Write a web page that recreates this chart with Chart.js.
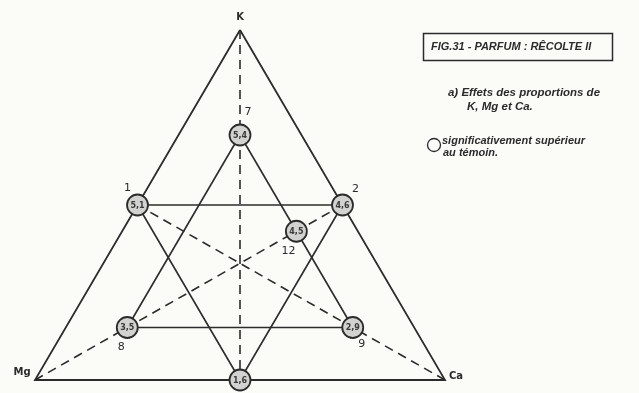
<!doctype html>
<html>
<head>
<meta charset="utf-8">
<title>Fig. 31 - Parfum : récolte II</title>
<script src="https://cdn.jsdelivr.net/npm/chart.js@4/dist/chart.umd.min.js"></script>
<style>
	html, body { margin: 0; padding: 0; background: #fbfbf8; }
	.chart-container { width: 639px; height: 393px; position: relative; }
</style>
</head>
<body>
<div class="chart-container"><canvas id="chart"></canvas></div>
<script>
// ternary coordinates (K, Mg, Ca) of the treatments
var vertexNames = ['K', 'Mg', 'Ca'];
var pointIds = ['1', '2', '7', '12', '8', '9', ''];
var pointK = [0.5, 0.5, 0.7, 0.425, 0.15, 0.15, 0];
var pointMg = [0.5, 0, 0.15, 0.15, 0.7, 0.15, 0.5];
var pointCa = [0, 0.5, 0.15, 0.425, 0.15, 0.7, 0.5];
var pointValues = ['5,1', '4,6', '5,4', '4,5', '3,5', '2,9', '1,6'];

// segments between treatments (indices into the point lists)
var solidLinks = [[0, 1], [0, 6], [1, 6], [2, 4], [2, 5], [4, 5]];
// dashed medians: from vertex to opposite mid-point
var dashedLinks = [['K', 6], ['Mg', 1], ['Ca', 0]];

var INK = '#2b2b2b';

function toXY(k, mg, ca) {
	return { x: ca + k / 2, y: k };
}

var vertexXY = {
	K: toXY(1, 0, 0),
	Mg: toXY(0, 1, 0),
	Ca: toXY(0, 0, 1)
};
var pointXY = pointIds.map(function(id, i) {
	return toXY(pointK[i], pointMg[i], pointCa[i]);
});

var datasets = [{
	label: 'traitements',
	data: pointXY,
	pointRadius: 10.5,
	pointBorderWidth: 1.8,
	pointBorderColor: INK,
	pointBackgroundColor: '#d2d2d0',
	showLine: false
}];

datasets.push({
	label: 'triangle',
	data: [vertexXY.K, vertexXY.Mg, vertexXY.Ca, vertexXY.K],
	showLine: true,
	borderColor: INK,
	borderWidth: 1.8,
	pointRadius: 0
});

solidLinks.forEach(function(l) {
	datasets.push({
		data: [pointXY[l[0]], pointXY[l[1]]],
		showLine: true,
		borderColor: INK,
		borderWidth: 1.6,
		pointRadius: 0
	});
});

dashedLinks.forEach(function(l) {
	datasets.push({
		data: [vertexXY[l[0]], pointXY[l[1]]],
		showLine: true,
		borderColor: INK,
		borderWidth: 1.6,
		borderDash: [9, 6],
		pointRadius: 0
	});
});

function text(ctx, str, x, y, size, width, align) {
	ctx.font = 'italic bold ' + size + 'px "Liberation Sans", "DejaVu Sans", sans-serif';
	ctx.textAlign = align || 'left';
	ctx.textBaseline = 'middle';
	if (width) {
		ctx.fillText(str, x, y, width);
	} else {
		ctx.fillText(str, x, y);
	}
}

// where the number of each treatment sits relative to its circle
var idOffsets = [[-10, -17], [13, -16], [8, -23], [-8, 20], [-6, 20], [9, 17], [0, 0]];
var vertexOffsets = { K: [0, -13], Mg: [-13, -8], Ca: [11, -4] };

var annotations = {
	id: 'annotations',
	afterDatasetsDraw: function(chart) {
		var ctx = chart.ctx;
		var xs = chart.scales.x, ys = chart.scales.y;
		ctx.save();
		ctx.fillStyle = INK;

		pointIds.forEach(function(id, i) {
			var px = xs.getPixelForValue(pointXY[i].x);
			var py = ys.getPixelForValue(pointXY[i].y);
			ctx.fillStyle = '#3a3a3a';
			ctx.font = 'bold 8px "DejaVu Sans", sans-serif';
			ctx.textAlign = 'center';
			ctx.textBaseline = 'middle';
			ctx.fillText(pointValues[i], px, py + 0.5, 15);
			ctx.fillStyle = INK;
			if (id) {
				ctx.font = '11px "DejaVu Sans", sans-serif';
				ctx.fillText(id, px + idOffsets[i][0], py + idOffsets[i][1]);
			}
		});

		vertexNames.forEach(function(name) {
			var px = xs.getPixelForValue(vertexXY[name].x) + vertexOffsets[name][0];
			var py = ys.getPixelForValue(vertexXY[name].y) + vertexOffsets[name][1];
			ctx.font = 'bold 10px "DejaVu Sans", sans-serif';
			ctx.textAlign = 'center';
			ctx.textBaseline = 'middle';
			ctx.fillText(name, px, py);
		});

		// title box
		ctx.strokeStyle = INK;
		ctx.lineWidth = 1.5;
		ctx.strokeRect(423.5, 33.5, 189, 27);
		text(ctx, 'FIG.31 - PARFUM : RÊCOLTE II', 431, 47, 11, 174);

		text(ctx, 'a) Effets des proportions de', 448, 93, 11.5, 152);
		text(ctx, 'K, Mg et Ca.', 467, 107, 11.5, 74);

		ctx.beginPath();
		ctx.arc(434, 145, 6.5, 0, Math.PI * 2);
		ctx.lineWidth = 1.3;
		ctx.stroke();
		text(ctx, 'significativement supérieur', 442, 141, 11, 147);
		text(ctx, 'au témoin.', 443, 153, 11);
		ctx.restore();
	}
};

var ctx = document.getElementById('chart').getContext('2d');
new Chart(ctx, {
	type: 'scatter',
	data: { datasets: datasets },
	options: {
		responsive: true,
		maintainAspectRatio: false,
		animation: false,
		layout: { padding: 0, autoPadding: false },
		plugins: {
			legend: { display: false },
			tooltip: { enabled: false }
		},
		scales: {
			x: { type: 'linear', display: false, min: -35 / 410, max: -35 / 410 + 639 / 410 },
			y: { type: 'linear', display: false, min: 1 + 30 / 350 - 393 / 350, max: 1 + 30 / 350 }
		}
	},
	plugins: [annotations]
});
</script>
</body>
</html>
